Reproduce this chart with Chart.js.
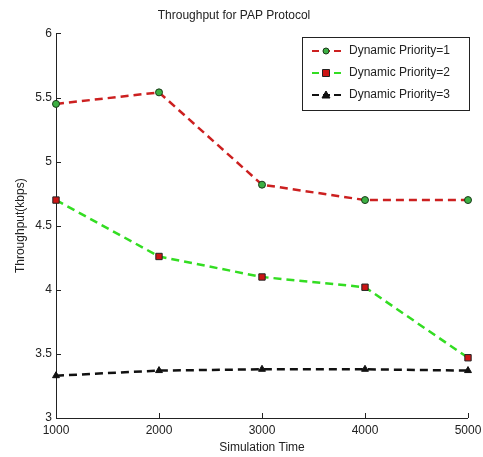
<!DOCTYPE html>
<html>
<head>
<meta charset="utf-8">
<script src="https://cdn.jsdelivr.net/npm/chart.js@4/dist/chart.umd.min.js"></script>
<style>
  html, body { margin: 0; padding: 0; background: #fff; }
  #wrap { width: 483px; height: 457px; }
</style>
</head>
<body>
<div id="wrap"><canvas id="chart" width="483" height="457"></canvas></div>
<script>
const simTimes = [1000, 2000, 3000, 4000, 5000];
const priority1 = [5.45, 5.54, 4.82, 4.70, 4.70];
const priority2 = [4.70, 4.26, 4.10, 4.02, 3.47];
const priority3 = [3.33, 3.37, 3.38, 3.38, 3.37];
const seriesNames = ['Dynamic Priority=1', 'Dynamic Priority=2', 'Dynamic Priority=3'];
const yTicks = [3, 3.5, 4, 4.5, 5, 5.5, 6];

const FONT = '"Liberation Sans", Arial, sans-serif';

function pts(vals) {
  return simTimes.map((t, i) => ({ x: t, y: vals[i] }));
}

// inward ticks + axis lines like matlab
const axisTicks = {
  id: 'axisTicks',
  beforeDatasetsDraw(chart) {
    const { ctx, chartArea: a, scales: { x, y } } = chart;
    ctx.save();
    ctx.strokeStyle = '#222';
    ctx.lineWidth = 1;
    ctx.beginPath();
    ctx.moveTo(a.left + 0.5, a.top);
    ctx.lineTo(a.left + 0.5, a.bottom + 0.5);
    ctx.lineTo(a.right, a.bottom + 0.5);
    simTimes.forEach(t => {
      const px = Math.round(x.getPixelForValue(t)) + 0.5;
      ctx.moveTo(px, a.bottom);
      ctx.lineTo(px, a.bottom - 5);
    });
    yTicks.forEach(v => {
      const py = Math.round(y.getPixelForValue(v)) + 0.5;
      ctx.moveTo(a.left, py);
      ctx.lineTo(a.left + 5, py);
    });
    ctx.stroke();
    ctx.restore();
  }
};

// boxed legend in the top-right corner
const boxLegend = {
  id: 'boxLegend',
  afterDraw(chart) {
    const { ctx } = chart;
    const left = 302, top = 37, w = 167, h = 73;
    ctx.save();
    ctx.fillStyle = '#fff';
    ctx.fillRect(left, top, w, h);
    ctx.strokeStyle = '#222';
    ctx.lineWidth = 1;
    ctx.strokeRect(left + 0.5, top + 0.5, w, h);
    ctx.font = '12px ' + FONT;
    ctx.textBaseline = 'middle';
    chart.data.datasets.forEach((ds, i) => {
      const cy = top + 14 + i * 22;
      ctx.strokeStyle = ds.borderColor;
      ctx.lineWidth = 2;
      ctx.setLineDash([7, 4]);
      ctx.beginPath();
      ctx.moveTo(left + 10, cy);
      ctx.lineTo(left + 43, cy);
      ctx.stroke();
      ctx.setLineDash([]);
      ctx.fillStyle = ds.pointBackgroundColor;
      ctx.strokeStyle = ds.pointBorderColor;
      ctx.lineWidth = 1;
      const mx = left + 24;
      ctx.beginPath();
      if (ds.pointStyle === 'circle') {
        ctx.arc(mx, cy, 3, 0, Math.PI * 2);
      } else if (ds.pointStyle === 'rect') {
        ctx.rect(mx - 3.5, cy - 3.5, 7, 7);
      } else {
        ctx.moveTo(mx, cy - 4);
        ctx.lineTo(mx + 4, cy + 3);
        ctx.lineTo(mx - 4, cy + 3);
        ctx.closePath();
      }
      ctx.fill();
      ctx.stroke();
      ctx.fillStyle = '#222';
      ctx.fillText(ds.label, left + 47, cy);
    });
    ctx.restore();
  }
};

new Chart(document.getElementById('chart').getContext('2d'), {
  type: 'line',
  data: {
    datasets: [
      {
        label: seriesNames[0],
        data: pts(priority1),
        borderColor: '#cc2020',
        borderWidth: 2.5,
        borderDash: [8, 5],
        pointStyle: 'circle',
        pointRadius: 3.5,
        pointBackgroundColor: '#3cb043',
        pointBorderColor: '#1a3a1a',
        pointBorderWidth: 1,
        clip: false
      },
      {
        label: seriesNames[1],
        data: pts(priority2),
        borderColor: '#33dd22',
        borderWidth: 2.5,
        borderDash: [8, 5],
        pointStyle: 'rect',
        pointRadius: 4.5,
        pointBackgroundColor: '#cc1515',
        pointBorderColor: '#222',
        pointBorderWidth: 1,
        clip: false
      },
      {
        label: seriesNames[2],
        data: pts(priority3),
        borderColor: '#111',
        borderWidth: 2.5,
        borderDash: [8, 5],
        pointStyle: 'triangle',
        pointRadius: 4,
        pointBackgroundColor: '#111',
        pointBorderColor: '#111',
        pointBorderWidth: 1,
        clip: false
      }
    ]
  },
  options: {
    responsive: false,
    animation: false,
    layout: { padding: { left: 0, right: 15, top: 0, bottom: 0 } },
    plugins: {
      legend: { display: false },
      tooltip: { enabled: false },
      title: {
        display: true,
        text: 'Throughput for PAP Protocol',
        color: '#222',
        font: { family: FONT, size: 12, weight: 'normal' },
        padding: { top: 8, bottom: 11 }
      }
    },
    scales: {
      x: {
        type: 'linear',
        min: 1000,
        max: 5000,
        afterBuildTicks(axis) { axis.ticks = simTimes.map(v => ({ value: v })); },
        afterFit(axis) { axis.height = 39; axis.paddingRight = 0; axis.paddingLeft = 0; },
        ticks: {
          color: '#222',
          font: { family: FONT, size: 12 },
          padding: 5,
          maxRotation: 0,
          callback: v => String(v)
        },
        grid: { display: false, drawTicks: false },
        border: { display: false },
        title: {
          display: true,
          text: 'Simulation Time',
          color: '#222',
          font: { family: FONT, size: 12 },
          padding: { top: 2, bottom: 2 }
        }
      },
      y: {
        min: 3,
        max: 6,
        afterBuildTicks(axis) { axis.ticks = yTicks.map(v => ({ value: v })); },
        afterFit(axis) { axis.width = 56; },
        ticks: {
          color: '#222',
          font: { family: FONT, size: 12 },
          padding: 4,
          callback: v => String(v)
        },
        grid: { display: false, drawTicks: false },
        border: { display: false },
        title: {
          display: true,
          text: 'Throughput(kbps)',
          color: '#222',
          font: { family: FONT, size: 12 },
          padding: { top: 13, bottom: 8 }
        }
      }
    }
  },
  plugins: [axisTicks, boxLegend]
});
</script>
</body>
</html>
